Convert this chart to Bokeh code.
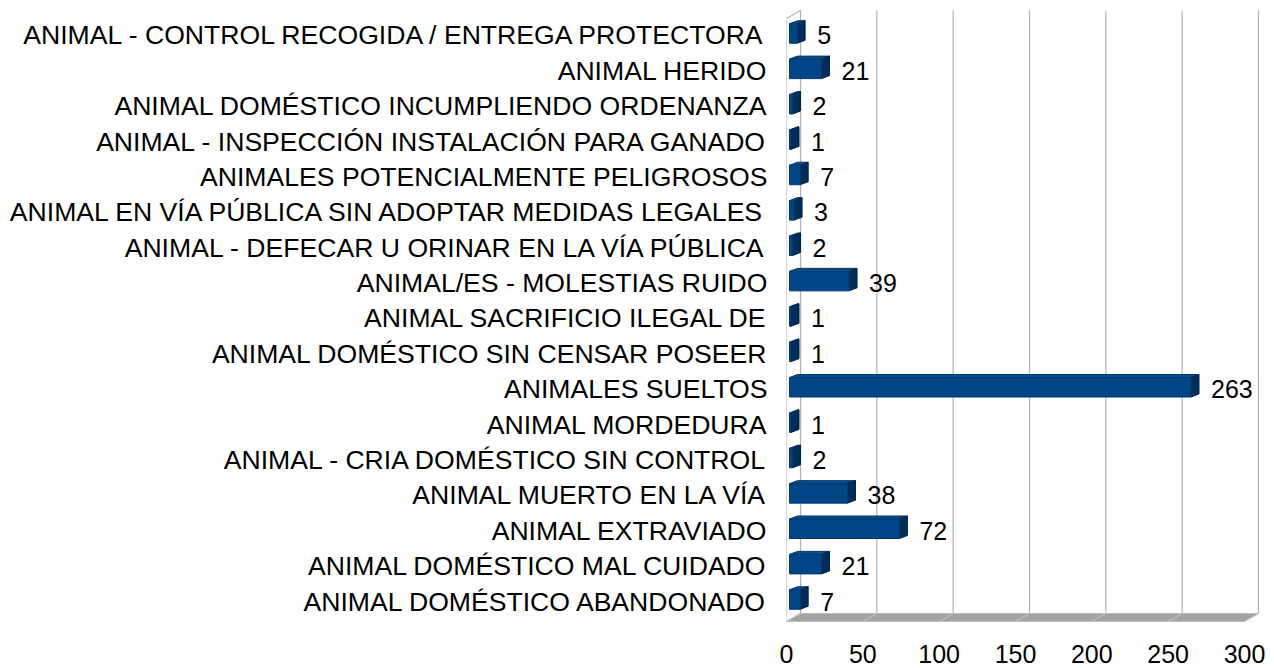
from bokeh.plotting import figure
from bokeh.models import FixedTicker, Range1d
from bokeh.embed import file_html
from bokeh.resources import INLINE
from bokeh.core.properties import value

# ---- data (top to bottom as in the chart) ----
categories = [
    "ANIMAL - CONTROL RECOGIDA / ENTREGA PROTECTORA",
    "ANIMAL HERIDO",
    "ANIMAL DOMÉSTICO INCUMPLIENDO ORDENANZA",
    "ANIMAL - INSPECCIÓN INSTALACIÓN PARA GANADO",
    "ANIMALES POTENCIALMENTE PELIGROSOS",
    "ANIMAL EN VÍA PÚBLICA SIN ADOPTAR MEDIDAS LEGALES",
    "ANIMAL - DEFECAR U ORINAR EN LA VÍA PÚBLICA",
    "ANIMAL/ES - MOLESTIAS RUIDO",
    "ANIMAL SACRIFICIO ILEGAL DE",
    "ANIMAL DOMÉSTICO SIN CENSAR POSEER",
    "ANIMALES SUELTOS",
    "ANIMAL MORDEDURA",
    "ANIMAL - CRIA DOMÉSTICO SIN CONTROL",
    "ANIMAL MUERTO EN LA VÍA",
    "ANIMAL EXTRAVIADO",
    "ANIMAL DOMÉSTICO MAL CUIDADO",
    "ANIMAL DOMÉSTICO ABANDONADO",
]
counts = [5, 21, 2, 1, 7, 3, 2, 39, 1, 1, 263, 1, 2, 38, 72, 21, 7]
x_ticks = [0, 50, 100, 150, 200, 250, 300]

n = len(categories)
ypos = [n - 1 - k for k in range(n)]

# ---- layout ----
W, H = 1274, 668
ML, MR, MT, MB = 786, 12, 8, 44
FW = W - ML - MR
FH = H - MT - MB
X0, X1 = 0.0, 311.8
Y0, Y1 = -0.650, 16.763
SX = FW / (X1 - X0)
SY = FH / (Y1 - Y0)


def dx(px):
    return px / SX


def dy(px):
    return px / SY


DEPTH_X = dx(14)
DEPTH_Y = dy(8)
front_y = Y0 + dy(3)
back_y = front_y + DEPTH_Y
wall_h = dy(603)

FONT = "Liberation Sans"

p = figure(width=W, height=H, output_backend="svg", toolbar_location=None,
           x_range=Range1d(X0, X1), y_range=Range1d(Y0, Y1),
           min_border_left=ML, min_border_right=MR,
           min_border_top=MT, min_border_bottom=MB)
p.grid.visible = False
p.outline_line_color = None
p.background_fill_color = "white"
p.border_fill_color = "white"

# back-wall gridlines
gx = [t + DEPTH_X for t in x_ticks]
p.segment(x0=gx, y0=[back_y] * len(gx), x1=gx, y1=[back_y + wall_h] * len(gx),
          line_color="#b3b3b3", line_width=1.2)

# left wall
p.patch([0, 0, DEPTH_X, DEPTH_X],
        [front_y, front_y + wall_h, back_y + wall_h, back_y],
        fill_color="white", line_color="#b3b3b3", line_width=1.2)

# floor
xmax = x_ticks[-1]
p.patch([0, xmax, xmax + DEPTH_X, DEPTH_X],
        [front_y, front_y, back_y, back_y],
        fill_color="#a3a3a3", line_color="#bdbdbd", line_width=1)
p.segment(x0=x_ticks, y0=[front_y] * len(x_ticks),
          x1=gx, y1=[back_y] * len(gx),
          line_color="#c4c4c4", line_width=1)

# bars (3D boxes)
f1, f2 = 3 / 14, 11 / 14
hh = dy(19.5) / 2
off_x1, off_x2 = f1 * DEPTH_X, f2 * DEPTH_X
rise = dy(3)

lefts, rights, bottoms, tops = [], [], [], []
side_xs, side_ys, top_xs, top_ys = [], [], [], []
for v, y in zip(counts, ypos):
    c = y + dy(2)
    l, r = off_x1, v + off_x1
    b, t = c - hh, c + hh
    lefts.append(l); rights.append(r); bottoms.append(b); tops.append(t)
    side_xs.append([r, r, v + off_x2, v + off_x2])
    side_ys.append([b, t, t + rise, b + rise])
    top_xs.append([l, r, v + off_x2, off_x2])
    top_ys.append([t, t, t + rise, t + rise])

p.patches(top_xs, top_ys, fill_color="#0b4d8c", line_color="#003566", line_width=1)
p.patches(side_xs, side_ys, fill_color="#002c58", line_color="#002448", line_width=1)
p.quad(left=lefts, right=rights, bottom=bottoms, top=tops,
       fill_color="#004586", line_color="#003a72", line_width=1)

# value labels
p.text(x=[v + off_x2 + dx(12) for v in counts], y=ypos,
       text=[str(v) for v in counts],
       text_font=value(FONT), text_font_size="25px", text_color="black",
       text_align="left", text_baseline="middle")

# axes
p.yaxis.ticker = FixedTicker(ticks=ypos)
p.yaxis.major_label_overrides = {y: c for y, c in zip(ypos, categories)}
p.yaxis.axis_line_color = None
p.yaxis.major_tick_line_color = None
p.yaxis.minor_tick_line_color = None
p.yaxis.major_tick_out = 0
p.yaxis.major_label_standoff = 19
p.yaxis.major_label_text_font = FONT
p.yaxis.major_label_text_font_size = "26.6px"
p.yaxis.major_label_text_color = "black"

p.xaxis.ticker = FixedTicker(ticks=x_ticks)
p.xaxis.axis_line_color = None
p.xaxis.major_tick_line_color = None
p.xaxis.minor_tick_line_color = None
p.xaxis.major_tick_out = 0
p.xaxis.major_label_standoff = 20
p.xaxis.major_label_text_font = FONT
p.xaxis.major_label_text_font_size = "25px"
p.xaxis.major_label_text_color = "black"

open("out.html", "w").write(file_html(p, INLINE))
